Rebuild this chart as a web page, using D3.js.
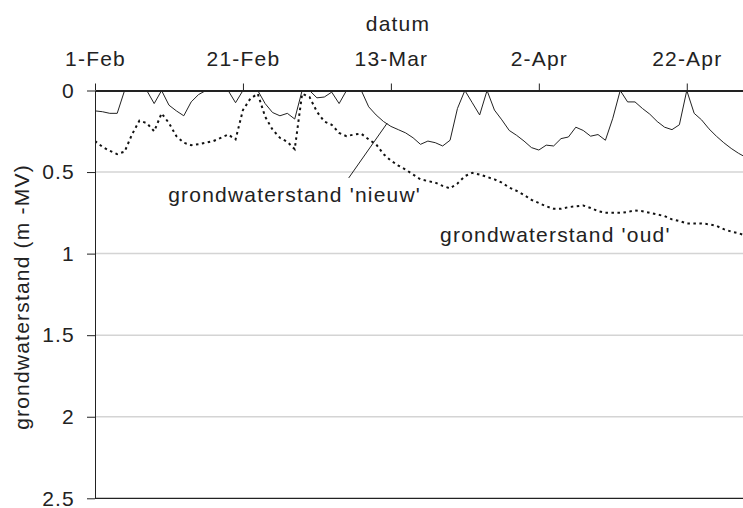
<!DOCTYPE html>
<html>
<head>
<meta charset="utf-8">
<script src="https://cdn.jsdelivr.net/npm/d3@7"></script>
<style>
  body { margin: 0; background: white; }
  svg text { font-family: "Liberation Sans", Arial, sans-serif; fill: #222; letter-spacing: 1.2px; }
</style>
</head>
<body>
<div id="plot"></div>
<script>
// Daily groundwater depth (m below ground level), starting 1-Feb
const startDate = new Date(Date.UTC(2007, 1, 1));
const nieuw = [0.125,0.13,0.14,0.14,0,0,0,0,0.08,0,
  0.09,0.125,0.155,0.07,0.025,0,0,0,0,0.075,
  0,0,0,0.08,0.135,0.155,0.14,0.175,0,0,
  0.045,0.04,0.01,0.08,0,0,0,0.1,0.15,0.19,
  0.22,0.24,0.26,0.29,0.33,0.31,0.32,0.34,0.305,0.11,
  0,0.075,0.15,0,0.12,0.18,0.245,0.275,0.31,0.35,
  0.365,0.335,0.34,0.295,0.285,0.225,0.245,0.28,0.27,0.305,
  0.17,0,0.07,0.07,0.11,0.145,0.19,0.225,0.24,0.21,
  0,0.14,0.18,0.235,0.28,0.32,0.355,0.385,0.41];
const oud = [0.31,0.345,0.37,0.39,0.375,0.27,0.185,0.2,0.25,0.14,
  0.2,0.28,0.32,0.335,0.33,0.32,0.31,0.29,0.27,0.30,
  0.12,0.05,0.02,0.16,0.24,0.29,0.315,0.36,0.02,0.04,
  0.13,0.19,0.21,0.26,0.28,0.27,0.265,0.3,0.33,0.39,
  0.43,0.46,0.485,0.515,0.545,0.555,0.565,0.585,0.6,0.57,
  0.525,0.505,0.515,0.53,0.545,0.565,0.595,0.615,0.64,0.67,
  0.69,0.71,0.725,0.725,0.715,0.71,0.705,0.72,0.74,0.75,
  0.75,0.75,0.745,0.735,0.74,0.75,0.76,0.77,0.79,0.80,
  0.815,0.815,0.815,0.82,0.83,0.85,0.865,0.875,0.89];

const xTickDays = [0, 20, 40, 60, 80];
const xTickLabels = ["1-Feb", "21-Feb", "13-Mar", "2-Apr", "22-Apr"];
const yTicks = [0, 0.5, 1, 1.5, 2, 2.5];
const yTickLabels = ["0", "0.5", "1", "1.5", "2", "2.5"];

// annotations: [day, depth]
const leader = [[34.3, 0.536], [39.5, 0.2]];
const labelNieuw = { day: 9.9, depth: 0.685, text: "grondwaterstand 'nieuw'" };
const labelOud = { day: 46.65, depth: 0.927, text: "grondwaterstand 'oud'" };

const dayMs = 86400000;
const toDate = d => new Date(startDate.getTime() + d * dayMs);

const width = 743, height = 508;
const margin = { top: 90.5, right: 0, bottom: 9.7, left: 95 };

const svg = d3.select("#plot").append("svg")
  .attr("width", width)
  .attr("height", height)
  .style("background-color", "white");

const xScale = d3.scaleUtc()
  .domain([startDate, toDate(87.6)])
  .range([margin.left, width - margin.right]);

const yScale = d3.scaleLinear()
  .domain([0, 2.5])
  .range([margin.top, height - margin.bottom]);

// gridlines
svg.append("g")
  .selectAll("line")
  .data(yTicks.slice(1, -1))
  .join("line")
  .attr("x1", margin.left)
  .attr("x2", width - margin.right)
  .attr("y1", d => yScale(d))
  .attr("y2", d => yScale(d))
  .attr("stroke", "#d4d4d4")
  .attr("stroke-width", 1.5);

// bottom border line at 2.5
svg.append("line")
  .attr("x1", margin.left)
  .attr("x2", width - margin.right)
  .attr("y1", yScale(2.5))
  .attr("y2", yScale(2.5))
  .attr("stroke", "#222")
  .attr("stroke-width", 1.2);

svg.append("clipPath").attr("id", "clip")
  .append("rect")
  .attr("x", margin.left).attr("y", 0)
  .attr("width", width - margin.left).attr("height", height);

const line = d3.line()
  .x((d, i) => xScale(toDate(i)))
  .y(d => yScale(d));

svg.append("path")
  .datum(oud)
  .attr("clip-path", "url(#clip)")
  .attr("fill", "none")
  .attr("stroke", "#111")
  .attr("stroke-width", 2)
  .attr("stroke-dasharray", "2.5,3.5")
  .attr("d", line);

svg.append("path")
  .datum(nieuw)
  .attr("clip-path", "url(#clip)")
  .attr("fill", "none")
  .attr("stroke", "#222")
  .attr("stroke-width", 1)
  .attr("d", line);

// y axis
const yAxis = d3.axisLeft(yScale)
  .tickValues(yTicks)
  .tickSize(8)
  .tickSizeOuter(0)
  .tickPadding(12)
  .tickFormat((d, i) => yTickLabels[i]);

const yAxisGroup = svg.append("g")
  .attr("transform", `translate(${margin.left},0)`)
  .call(yAxis);
yAxisGroup.selectAll("text").attr("font-size", 21).attr("font-family", null).style("fill", "#222");
yAxisGroup.selectAll("line, path").attr("stroke", "#222");

// x axis on top
const xAxis = d3.axisTop(xScale)
  .tickValues(xTickDays.map(toDate))
  .tickSize(7)
  .tickSizeOuter(0)
  .tickPadding(18)
  .tickFormat((d, i) => xTickLabels[i]);

const xAxisGroup = svg.append("g")
  .attr("transform", `translate(0,${margin.top})`)
  .call(xAxis);
xAxisGroup.selectAll("text").attr("font-size", 21).attr("font-family", null).style("fill", "#222");
xAxisGroup.selectAll("line").attr("stroke", "#222");
xAxisGroup.select(".domain").attr("stroke", "#222").attr("stroke-width", 2);

// axis titles
svg.append("text")
  .attr("x", 398)
  .attr("y", 31)
  .attr("text-anchor", "middle")
  .attr("font-size", 21)
  .text("datum");

svg.append("text")
  .attr("transform", "translate(29,297) rotate(-90)")
  .attr("text-anchor", "middle")
  .attr("font-size", 21)
  .text("grondwaterstand (m -MV)");

// annotations
svg.append("line")
  .attr("x1", xScale(toDate(leader[0][0])))
  .attr("y1", yScale(leader[0][1]))
  .attr("x2", xScale(toDate(leader[1][0])))
  .attr("y2", yScale(leader[1][1]))
  .attr("stroke", "#222")
  .attr("stroke-width", 1);

[labelNieuw, labelOud].forEach(l => {
  svg.append("text")
    .attr("x", xScale(toDate(l.day)))
    .attr("y", yScale(l.depth))
    .attr("font-size", 21)
    .text(l.text);
});
</script>
</body>
</html>
